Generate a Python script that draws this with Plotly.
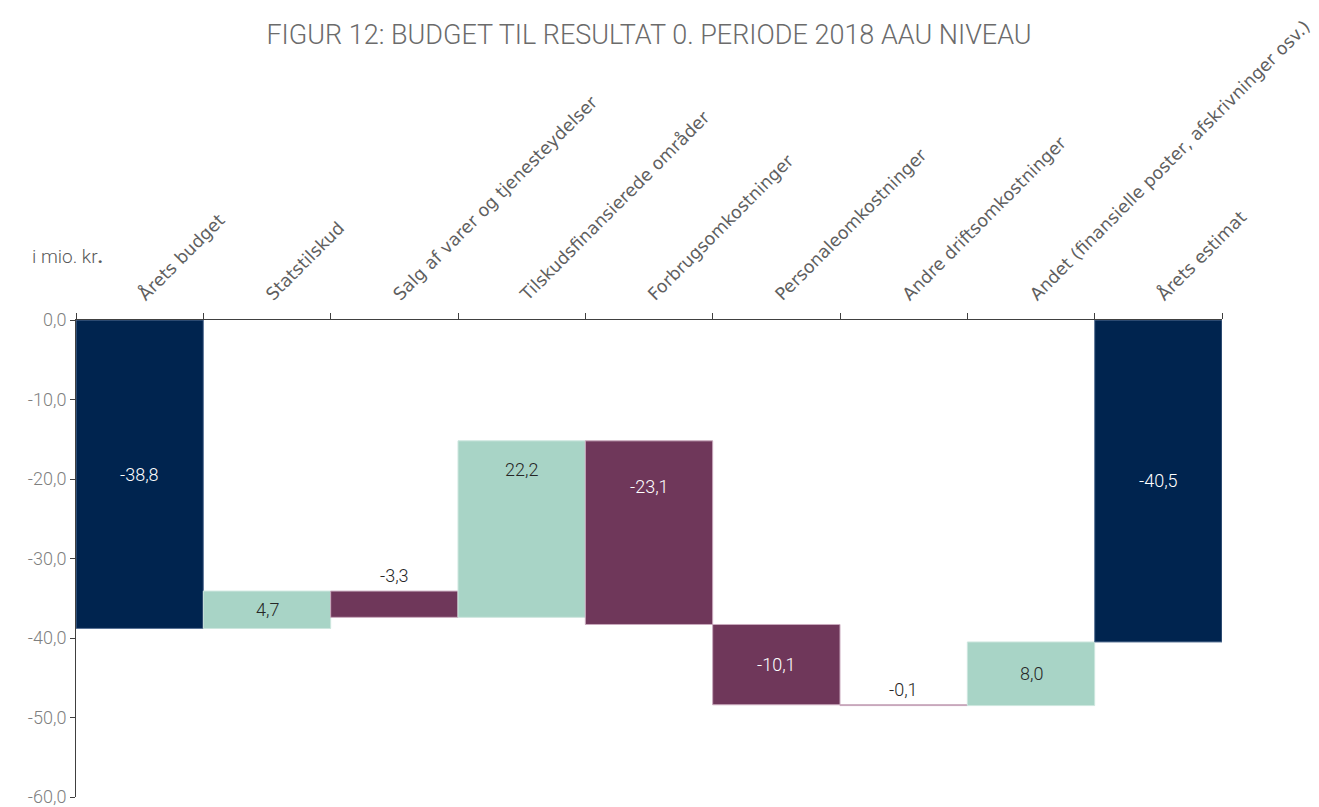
import plotly.graph_objects as go

# data (i mio. kr.)
categories = ["Årets budget", "Statstilskud", "Salg af varer og tjenesteydelser",
              "Tilskudsfinansierede områder", "Forbrugsomkostninger",
              "Personaleomkostninger", "Andre driftsomkostninger",
              "Andet (finansielle poster, afskrivninger osv.)", "Årets estimat"]
values = [-38.8, 4.7, -3.3, 22.2, -23.1, -10.1, -0.1, 8.0, -40.5]
measures = ["absolute", "relative", "relative", "relative", "relative",
            "relative", "relative", "relative", "total"]
y_ticks = [0, -10, -20, -30, -40, -50, -60]
y_ticktext = [f"{v:.1f}".replace(".", ",") for v in y_ticks]

NAVY = "#00244f"
MINT = "#a8d4c6"
PLUM = "#6f375a"
NUMFONT = "Roboto"

fig = go.Figure()
fig.add_trace(go.Waterfall(
    x=categories, y=values, measure=measures,
    width=1,
    connector=dict(visible=False),
    totals=dict(marker=dict(color=NAVY, line=dict(color="#5a7396", width=1))),
    increasing=dict(marker=dict(color=MINT, line=dict(color="#cde6de", width=1))),
    decreasing=dict(marker=dict(color=PLUM, line=dict(color="#c9a9bd", width=1))),
    hoverinfo="skip",
))

# value labels, placed from the running totals
annotations = []
level = 0.0
for cat, v, m in zip(categories, values, measures):
    if m == "relative":
        start, end = level, level + v
        level = end
    else:
        start, end = 0.0, v
        level = v
    top, bot = max(start, end), min(start, end)
    txt = f"{v:.1f}".replace(".", ",")
    height = top - bot
    if height < 4:
        y, anchor, col = top, "bottom", "#262626"
    else:
        if m == "relative" and height > 20:
            y = top - (3.6 if v > 0 else 5.7)
        else:
            y = (top + bot) / 2
        anchor = "middle"
        col = "#262626" if (m == "relative" and v > 0) else "white"
    annotations.append(dict(x=cat, y=y, text=txt, showarrow=False, yanchor=anchor,
                            yshift=3 if anchor == "bottom" else 0,
                            font=dict(family=NUMFONT, size=18, weight=300, color=col)))

annotations.append(dict(xref="paper", yref="paper", x=-0.040, y=1.134,
                        xanchor="left", yanchor="middle", showarrow=False,
                        text="i mio. kr<b>.</b>",
                        font=dict(family=NUMFONT, size=19, weight=300, color="#595959")))

# page body adds an 8px offset, so the figure is 8px smaller
fig.update_layout(
    width=1311, height=799,
    margin=dict(l=68, r=97, t=312, b=10),
    paper_bgcolor="white", plot_bgcolor="white",
    separators=",.",
    showlegend=False,
    title=dict(text="FIGUR 12: BUDGET TIL RESULTAT 0. PERIODE 2018 AAU NIVEAU",
               xref="paper", x=0.5, xanchor="center",
               yref="container", y=1 - 27 / 799, yanchor="middle",
               font=dict(family=NUMFONT, size=27, weight=300, color="#6b6b6b")),
    annotations=annotations,
    xaxis=dict(type="category", side="top", range=[-0.5, 8.5], automargin=False,
               tickson="boundaries", ticks="outside", ticklen=6,
               tickcolor="#404040", showline=True, linecolor="#404040",
               linewidth=1, tickangle=-45, showgrid=False, ticklabelstandoff=8,
               tickfont=dict(family="DejaVu Sans", size=17.5, color="#5f5f5f")),
    yaxis=dict(range=[-60, 0], tickvals=y_ticks, ticktext=y_ticktext,
               automargin=False, ticklabeloverflow="allow",
               ticks="outside", ticklen=5, tickcolor="#404040",
               showline=True, linecolor="#404040", linewidth=1,
               showgrid=False, zeroline=False,
               tickfont=dict(family=NUMFONT, size=18, weight=300, color="#7f7f7f")),
)

fig.write_html("out.html")
